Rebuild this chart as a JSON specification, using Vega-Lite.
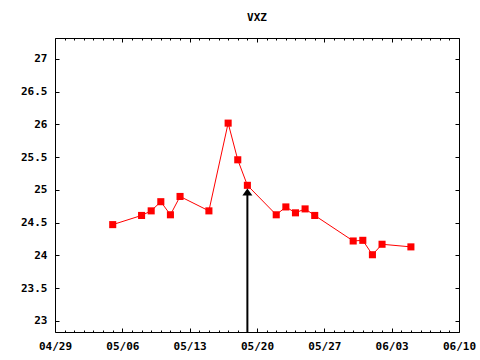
{
  "$schema": "https://vega.github.io/schema/vega-lite/v6.json",
  "width": 404,
  "height": 294,
  "autosize": {"type": "none"},
  "padding": {"left": 55, "top": 38, "right": 21, "bottom": 28},
  "background": "white",
  "config": {
    "view": {"stroke": "black", "strokeWidth": 1},
    "font": "DejaVu Sans Mono",
    "axis": {
      "domain": false,
      "grid": false,
      "labelFont": "DejaVu Sans Mono",
      "labelFontSize": 11,
      "labelFontWeight": "bold",
      "labelColor": "black",
      "tickColor": "black",
      "title": null
    }
  },
  "title": {"text": "VXZ", "font": "DejaVu Sans Mono", "fontSize": 11, "fontWeight": "bold", "offset": 15, "anchor": "middle", "color": "black"},
  "datasets": {
    "prices": [
      {"date": "2017/05/05", "close": 24.47},
      {"date": "2017/05/08", "close": 24.61},
      {"date": "2017/05/09", "close": 24.68},
      {"date": "2017/05/10", "close": 24.82},
      {"date": "2017/05/11", "close": 24.62},
      {"date": "2017/05/12", "close": 24.90},
      {"date": "2017/05/15", "close": 24.68},
      {"date": "2017/05/17", "close": 26.02},
      {"date": "2017/05/18", "close": 25.46},
      {"date": "2017/05/19", "close": 25.07},
      {"date": "2017/05/22", "close": 24.62},
      {"date": "2017/05/23", "close": 24.74},
      {"date": "2017/05/24", "close": 24.65},
      {"date": "2017/05/25", "close": 24.71},
      {"date": "2017/05/26", "close": 24.61},
      {"date": "2017/05/30", "close": 24.22},
      {"date": "2017/05/31", "close": 24.23},
      {"date": "2017/06/01", "close": 24.01},
      {"date": "2017/06/02", "close": 24.17},
      {"date": "2017/06/05", "close": 24.13}
    ],
    "arrow": [
      {"date": "2017/05/19", "low": 22.83, "high": 24.94, "head": 24.97}
    ]
  },
  "resolve": {"axis": {"x": "independent", "y": "independent"}},
  "layer": [
    {
      "data": {"name": "prices"},
      "mark": {"type": "line", "color": "#ff0000", "strokeWidth": 1},
      "encoding": {
        "x": {
          "field": "date", "type": "temporal",
          "scale": {"domain": [{"year": 2017, "month": 4, "date": 29}, {"year": 2017, "month": 6, "date": 10}], "nice": false},
          "axis": {
            "orient": "bottom",
            "tickCount": {"interval": "day", "step": 1},
            "labelExpr": "day(datum.value)==6 ? timeFormat(datum.value,'%m/%d') : ''",
            "labelOverlap": false,
            "labelFlush": false,
            "tickSize": {"condition": {"test": "day(datum.value)==6", "value": -4}, "value": -2},
            "labelPadding": 12
          }
        },
        "y": {
          "field": "close", "type": "quantitative",
          "scale": {"domain": [22.83, 27.32], "zero": false, "nice": false},
          "axis": {
            "orient": "left",
            "values": [23, 23.5, 24, 24.5, 25, 25.5, 26, 26.5, 27],
            "format": ".3~g",
            "tickSize": -4,
            "labelPadding": 12
          }
        }
      }
    },
    {
      "data": {"name": "prices"},
      "mark": {"type": "point", "shape": "square", "filled": true, "color": "#ff0000", "size": 50, "opacity": 1},
      "encoding": {
        "x": {"field": "date", "type": "temporal", "axis": null},
        "y": {"field": "close", "type": "quantitative", "axis": null}
      }
    },
    {
      "data": {"name": "arrow"},
      "mark": {"type": "rule", "color": "black", "strokeWidth": 2},
      "encoding": {
        "x": {
          "field": "date", "type": "temporal",
          "axis": {
            "orient": "top",
            "tickCount": {"interval": "day", "step": 1},
            "labels": false,
            "tickSize": {"condition": {"test": "day(datum.value)==6", "value": -4}, "value": -2}
          }
        },
        "y": {
          "field": "low", "type": "quantitative",
          "axis": {
            "orient": "right",
            "values": [23, 23.5, 24, 24.5, 25, 25.5, 26, 26.5, 27],
            "labels": false,
            "tickSize": -4
          }
        },
        "y2": {"field": "high"}
      }
    },
    {
      "data": {"name": "arrow"},
      "mark": {"type": "point", "shape": "M0,-0.7L1,0.7L-1,0.7Z", "filled": true, "color": "black", "size": 100, "opacity": 1},
      "encoding": {
        "x": {"field": "date", "type": "temporal", "axis": null},
        "y": {"field": "head", "type": "quantitative", "axis": null}
      }
    }
  ]
}
